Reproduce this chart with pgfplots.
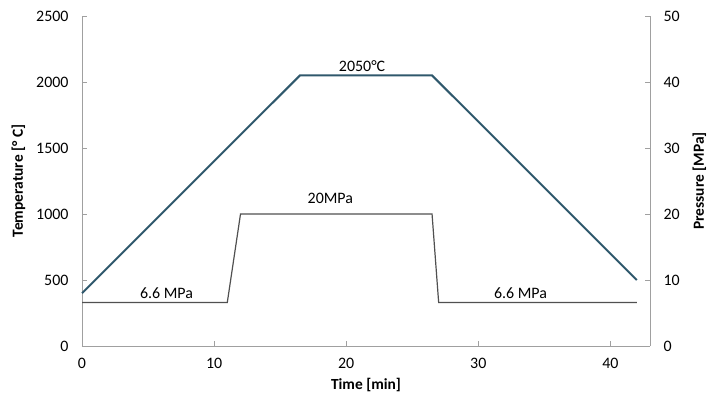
\documentclass[border=0pt]{standalone}
\usepackage{fontspec}
\setmainfont{Carlito}
\usepackage{pgfplots}
\pgfplotsset{compat=1.18}
\definecolor{tempc}{RGB}{47,88,108}
\definecolor{presc}{RGB}{80,80,80}
\definecolor{axc}{RGB}{160,160,160}
\begin{document}
\fontsize{16}{19}\selectfont
\begin{tikzpicture}[x=1bp,y=1bp]
\pgfplotsset{
  every axis/.append style={
    scale only axis, width=568bp, height=330bp,
    xmin=0, xmax=43,
    /pgf/number format/assume math mode=true,
    /pgf/number format/1000 sep={},
    tick style={axc, line width=0.8bp},
    major tick length=5bp,
    tick align=inside,
    axis line style={axc, line width=0.9bp},
    tick label style={font=\fontsize{16}{19}\selectfont},
    label style={font=\fontsize{15.5}{18}\selectfont\bfseries},
    clip=false,
  }
}
\begin{axis}[
  axis x line*=bottom, axis y line*=left,
  ymin=0, ymax=2500,
  ytick={0,500,...,2500},
  xtick={0,10,20,30,40},
  xlabel={Time [min]},
  ylabel={Temperature [\textdegree\ C]},
  xlabel shift=-2bp,
  ylabel shift=0bp,
  xticklabel style={yshift=-7bp},
  yticklabel style={xshift=-8bp},
]
\addplot[tempc, line width=2bp] coordinates {(0,400) (16.5,2050) (26.5,2050) (42,500)};
\node[anchor=center] at (axis cs:21.2,2118) {2050°C};
\end{axis}
\begin{axis}[
  axis x line=none, axis y line*=right,
  ymin=0, ymax=50,
  ytick={0,10,...,50},
  ylabel={Pressure [MPa]},
  ylabel shift=2bp,
  yticklabel style={xshift=8bp},
]
\addplot[presc, line width=1.2bp] coordinates {(0,6.6) (11,6.6) (12,20) (26.5,20) (27,6.6) (42,6.6)};
\node[anchor=center] at (axis cs:18.8,22.3) {20MPa};
\node[anchor=center] at (axis cs:6.4,8.0) {6.6 MPa};
\node[anchor=center] at (axis cs:33.2,8.0) {6.6 MPa};
\end{axis}
\pgfresetboundingbox
\path[use as bounding box] (-82bp,-52bp) rectangle (625bp,346bp);
\end{tikzpicture}
\end{document}
